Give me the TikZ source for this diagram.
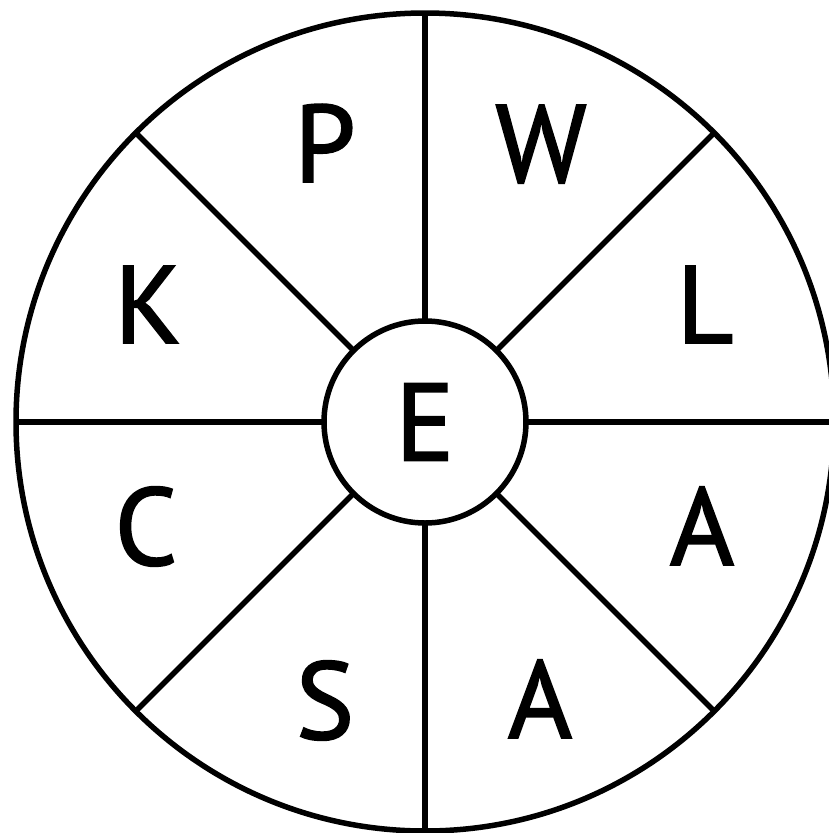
\documentclass[tikz,border=0pt]{standalone}
\usepackage{fontspec}
\setmainfont{PT Sans}
\newfontfamily\letterfont{PT Sans}[FakeBold=1.6]
\begin{document}
\begin{tikzpicture}[x=1pt,y=-1pt,
  ring/.style={circle,draw=black,line width=5.5pt,inner sep=0pt,outer sep=0pt},
  spoke/.style={draw=black,line width=5.5pt},
  letter/.style={anchor=base,inner sep=0pt,font=\letterfont\fontsize{110}{110}\selectfont}]
\useasboundingbox (0,0) rectangle (829,833);
\node[ring,minimum size=818pt] (outer) at (425,422) {};
\node[ring,minimum size=202pt,fill=white,font=\letterfont\fontsize{110}{110}\selectfont] (inner) at (425,422) {E};
\foreach \a in {0,45,...,315}{
  \draw[spoke] (inner.\a) -- (outer.\a);
}
\node[letter] (p) at (325,182) {P};
\node[letter] (w) at (541,182) {W};
\node[letter] (k) at (148,343) {K};
\node[letter] (l) at (705,343) {L};
\node[letter] (c) at (146,565) {C};
\node[letter] (a1) at (702,565) {A};
\node[letter] (s) at (325,739) {S};
\node[letter] (a2) at (540,738) {A};
\end{tikzpicture}
\end{document}
